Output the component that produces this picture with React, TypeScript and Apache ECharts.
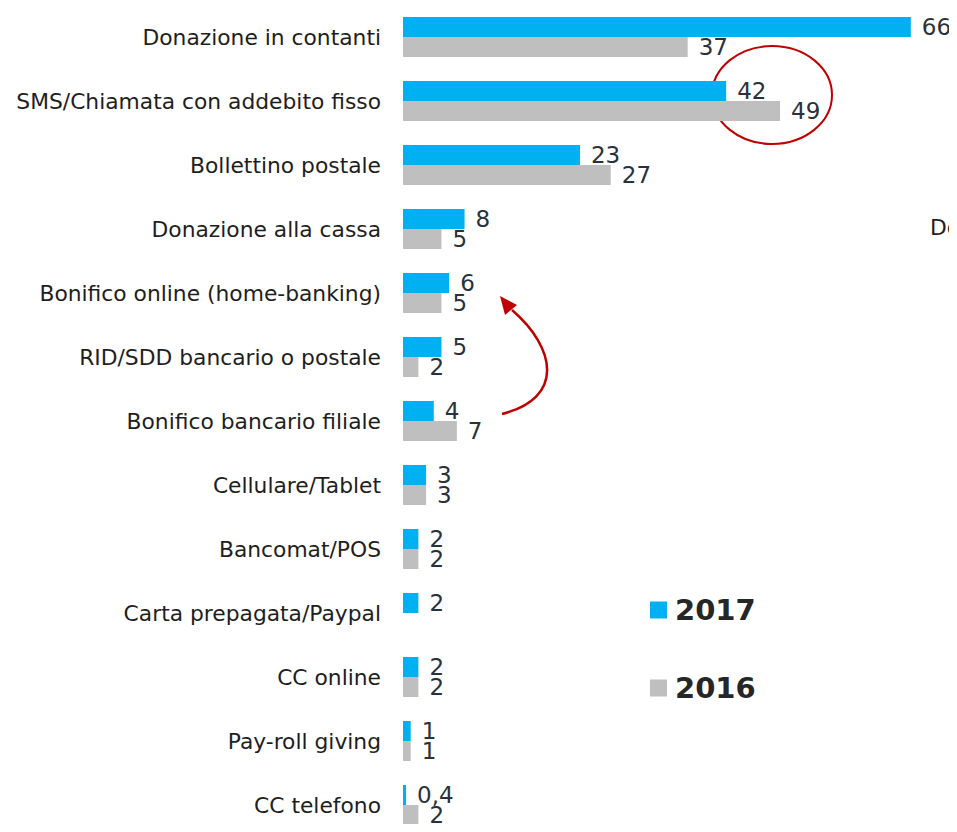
import React, { useEffect, useRef } from "react";
import * as echarts from "echarts";

const categories = [
  "Donazione in contanti",
  "SMS/Chiamata con addebito fisso",
  "Bollettino postale",
  "Donazione alla cassa",
  "Bonifico online (home-banking)",
  "RID/SDD bancario o postale",
  "Bonifico bancario filiale",
  "Cellulare/Tablet",
  "Bancomat/POS",
  "Carta prepagata/Paypal",
  "CC online",
  "Pay-roll giving",
  "CC telefono",
];
const values2017 = [66, 42, 23, 8, 6, 5, 4, 3, 2, 2, 2, 1, 0.4];
const values2016: (number | null)[] = [37, 49, 27, 5, 5, 2, 7, 3, 2, null, 2, 1, 2];

const FONT = "DejaVu Sans";
const TEXT = "#1e1e1e";
const VALUE_TEXT = "#2a313b";

export default function App() {
  const ref = useRef<HTMLDivElement>(null);
  useEffect(() => {
    if (!ref.current) return;
    const chart = echarts.init(ref.current, undefined, { renderer: "svg" });
    const label = {
      show: true,
      position: "right" as const,
      distance: 11,
      color: VALUE_TEXT,
      fontFamily: FONT,
      fontSize: 23,
      formatter: (p: any) => String(p.value).replace(".", ","),
    };
    chart.setOption({
      animation: false,
      backgroundColor: "#ffffff",
      grid: { left: 403, top: 5, width: 554, height: 832, outerBoundsMode: "none", containLabel: false },
      xAxis: { type: "value", min: 0, max: 72, show: false },
      yAxis: {
        type: "category",
        data: categories,
        inverse: true,
        axisLine: { show: false },
        axisTick: { show: false },
        axisLabel: {
          margin: 22,
          color: TEXT,
          fontFamily: FONT,
          fontSize: 21.8,
        },
      },
      legend: {
        orient: "vertical",
        left: 645,
        top: 590,
        icon: "rect",
        itemWidth: 17,
        itemHeight: 17,
        itemGap: 48,
        data: ["2017", "2016"],
        textStyle: {
          color: "#262626",
          fontFamily: FONT,
          fontSize: 29,
          fontWeight: "bold",
          lineHeight: 30,
          padding: [0, 0, 0, 3],
        },
      },
      series: [
        {
          name: "2017",
          type: "bar",
          data: values2017,
          barWidth: 20,
          barGap: "0%",
          itemStyle: { color: "#00B0F0" },
          label,
        },
        {
          name: "2016",
          type: "bar",
          data: values2016,
          barWidth: 20,
          barGap: "0%",
          itemStyle: { color: "#BFBFBF" },
          label,
        },
      ],
      graphic: [
        {
          type: "ellipse",
          shape: { cx: 772, cy: 95, rx: 60, ry: 49 },
          style: { fill: "none", stroke: "#C00000", lineWidth: 2 },
        },
        {
          type: "bezierCurve",
          shape: { x1: 502, y1: 414, cpx1: 565, cpy1: 398, cpx2: 556, cpy2: 348, x2: 512, y2: 310 },
          style: { fill: "none", stroke: "#C00000", lineWidth: 2.5 },
        },
        {
          type: "polygon",
          shape: { points: [[500, 296], [517, 305], [505, 315]] },
          style: { fill: "#C00000" },
        },
        {
          type: "text",
          left: 930,
          top: 216,
          style: { text: "Donazione alla cassa", fill: TEXT, font: `21.8px "${FONT}"` },
        },
      ],
    });
    return () => chart.dispose();
  }, []);
  return <div ref={ref} style={{ width: 957, height: 832, margin: -8 }} />;
}
